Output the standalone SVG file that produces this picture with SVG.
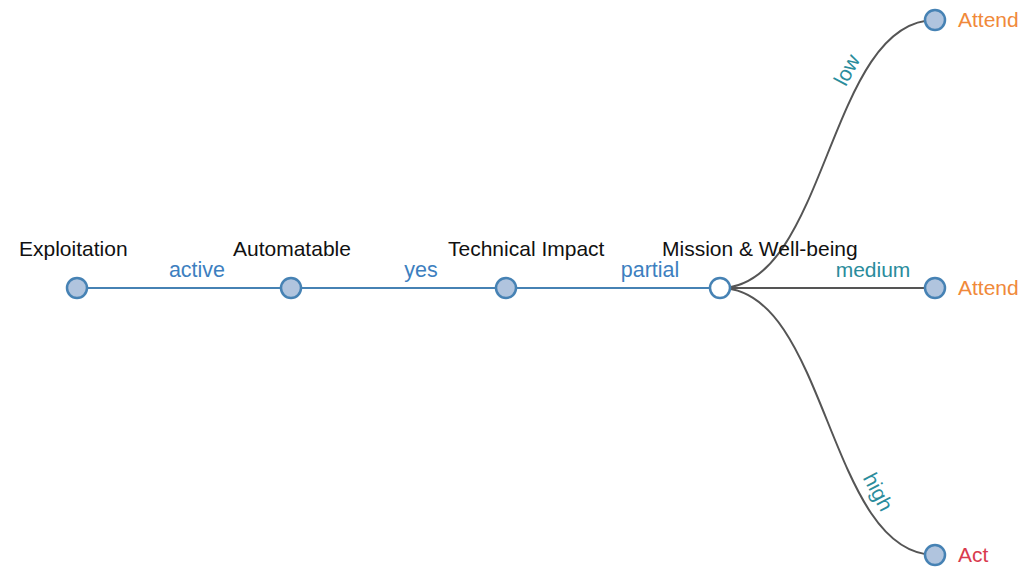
<svg xmlns="http://www.w3.org/2000/svg" width="1030" height="567" viewBox="0 0 1030 567">
<style>
.node{fill:#b0c4de;stroke:#4682b4;stroke-width:2.5}
.open{fill:#ffffff;stroke:#4682b4;stroke-width:2.5}
.lbl{font-family:"Liberation Sans",Arial,sans-serif;font-size:21px;fill:#111}
.elbl{font-family:"Liberation Sans",Arial,sans-serif;font-size:21.5px;fill:#3d7fbf}
.clbl{font-family:"Liberation Sans",Arial,sans-serif;font-size:21px;fill:#2a8c9c}
.attend{font-family:"Liberation Sans",Arial,sans-serif;font-size:21px;fill:#f0893a}
.act{font-family:"Liberation Sans",Arial,sans-serif;font-size:21px;fill:#d93a4e}
.blink{fill:none;stroke:#4682b4;stroke-width:2}
.glink{fill:none;stroke:#555;stroke-width:2}
</style>
<rect width="1030" height="567" fill="#ffffff"/>
<g id="connectors">
<path class="blink" d="M77,288 H291"/>
<path class="blink" d="M291,288 H506"/>
<path class="blink" d="M506,288 H720"/>
<path class="glink" d="M720,288 C827.5,288 827.5,20 935,20"/>
<path class="glink" d="M720,288 H935"/>
<path class="glink" d="M720,288 C827.5,288 827.5,555 935,555"/>
<text class="elbl" x="197" y="277" text-anchor="middle">active</text>
<text class="elbl" x="421" y="277" text-anchor="middle">yes</text>
<text class="elbl" x="650" y="277" text-anchor="middle">partial</text>
<text class="clbl" x="873" y="277" text-anchor="middle">medium</text>
<text class="clbl" x="0" y="0" text-anchor="middle" transform="translate(847,70) rotate(-62) translate(0,7)">low</text>
<text class="clbl" x="0" y="0" text-anchor="middle" transform="translate(878,492) rotate(62) translate(0,7)">high</text>
</g>
<g id="exploitation">
<circle class="node" cx="77" cy="288" r="10"/>
<text class="lbl" x="19" y="256">Exploitation</text>
</g>
<g id="automatable">
<circle class="node" cx="291" cy="288" r="10"/>
<text class="lbl" x="233" y="256">Automatable</text>
</g>
<g id="technical-impact">
<circle class="node" cx="506" cy="288" r="10"/>
<text class="lbl" x="448" y="256">Technical Impact</text>
</g>
<g id="mission">
<circle class="open" cx="720" cy="288" r="10"/>
<text class="lbl" x="662" y="256">Mission &amp; Well-being</text>
</g>
<g id="leaf-low">
<circle class="node" cx="935" cy="20" r="10"/>
<text class="attend" x="958" y="27">Attend</text>
</g>
<g id="leaf-medium">
<circle class="node" cx="935" cy="288" r="10"/>
<text class="attend" x="958" y="295">Attend</text>
</g>
<g id="leaf-high">
<circle class="node" cx="935" cy="555" r="10"/>
<text class="act" x="958" y="562">Act</text>
</g>
</svg>
